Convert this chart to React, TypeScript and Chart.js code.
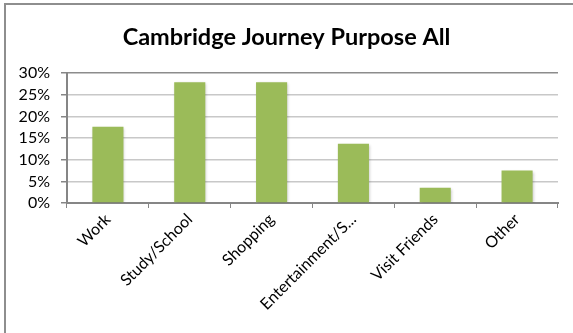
import React, { useEffect, useRef } from "react";
import { Chart, registerables } from "chart.js";

Chart.register(...registerables);

const categories = ["Work", "Study/School", "Shopping", "Entertainment/S...", "Visit Friends", "Other"];
const shares = [17.6, 27.9, 27.9, 13.7, 3.5, 7.5];
const yTicks = [0, 5, 10, 15, 20, 25, 30];
const titleText = "Cambridge Journey Purpose All";

const FONT = "Lato, 'Open Sans', sans-serif";

const shadowPlugin = {
  id: "barShadow",
  beforeDatasetDraw(chart: any) {
    const ctx = chart.ctx;
    ctx.save();
    ctx.shadowColor = "rgba(0,0,0,0.25)";
    ctx.shadowBlur = 3;
    ctx.shadowOffsetX = 1;
    ctx.shadowOffsetY = 1;
  },
  afterDatasetDraw(chart: any) {
    chart.ctx.restore();
  },
};

export default function App() {
  const ref = useRef<HTMLCanvasElement | null>(null);
  useEffect(() => {
    if (!ref.current) return;
    const chart = new Chart(ref.current, {
      type: "bar",
      data: {
        labels: categories,
        datasets: [
          {
            data: shares,
            backgroundColor: "#9BBB59",
            borderWidth: 0,
            barPercentage: 0.38,
            categoryPercentage: 1,
          },
        ],
      },
      plugins: [shadowPlugin],
      options: {
        responsive: false,
        animation: false,
        devicePixelRatio: 1,
        layout: { padding: { left: 15, right: 15, top: 0, bottom: 0 } },
        plugins: {
          legend: { display: false },
          tooltip: { enabled: false },
          title: {
            display: true,
            text: titleText,
            color: "#000",
            font: { family: FONT, size: 23.5, weight: "bold" },
            padding: { top: 23, bottom: 22 },
          },
        },
        scales: {
          x: {
            grid: {
              display: true,
              drawOnChartArea: false,
              drawTicks: true,
              tickLength: 5,
              tickColor: "#868686",
              offset: true,
            },
            border: { display: true, color: "#868686", width: 2 },
            ticks: {
              color: "#000",
              font: { family: FONT, size: 16 },
              minRotation: 45,
              maxRotation: 45,
              autoSkip: false,
              padding: 2,
            },
            afterFit(scale: any) {
              scale.height = 130;
            },
          },
          y: {
            min: 0,
            max: 30,
            afterBuildTicks(scale: any) {
              scale.ticks = yTicks.map((v) => ({ value: v }));
            },
            grid: {
              color: (c: any) => (c.tick && c.tick.value === 30 ? "#8C8C8C" : "#C8C8C8"),
              lineWidth: 1.5,
              tickLength: 6,
              tickColor: "#868686",
            },
            border: { display: true, color: "#868686", width: 2 },
            ticks: {
              color: "#000",
              font: { family: FONT, size: 16 },
              padding: 11,
              autoSkip: false,
              callback: (v: any) => v + "%",
            },
            afterFit(scale: any) {
              scale.width = 52;
            },
          },
        },
      },
    });
    return () => chart.destroy();
  }, []);
  return (
    <div style={{ position: "fixed", left: 0, top: 0, width: 573, height: 333, overflow: "hidden", background: "#fff" }}>
      <div
        style={{
          position: "absolute",
          left: 4,
          top: 3,
          width: 700,
          height: 500,
          borderTop: "2px solid #8E8E8E",
          borderLeft: "2px solid #8E8E8E",
          pointerEvents: "none",
        }}
      />
      <canvas ref={ref} width={573} height={333} style={{ position: "absolute", left: 0, top: 0, width: 573, height: 333 }} />
    </div>
  );
}
